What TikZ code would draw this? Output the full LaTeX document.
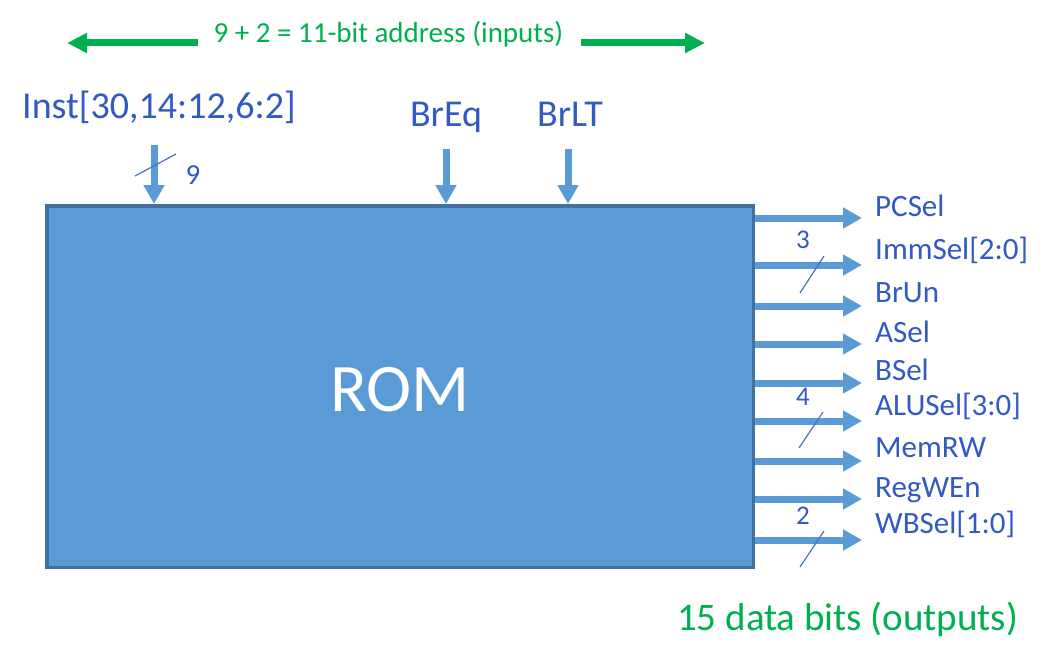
\documentclass[tikz,border=0pt]{standalone}
\usepackage{fontspec}
\setmainfont{Carlito}
\usetikzlibrary{arrows.meta}
\definecolor{txtblue}{RGB}{50,90,196}
\definecolor{arrblue}{RGB}{91,155,213}
\definecolor{romfill}{RGB}{91,155,213}
\definecolor{romedge}{RGB}{65,113,156}
\definecolor{slashblue}{RGB}{68,114,196}
\definecolor{offgreen}{RGB}{0,176,80}
\newcommand{\fs}[1]{\fontsize{#1}{#1}\selectfont}
\tikzset{
  lbl/.style={inner sep=0pt, text=txtblue},
  outlbl/.style={lbl, anchor=base west, font=\fs{31}},
  inlbl/.style={lbl, anchor=base, font=\fs{38}},
  numlbl/.style={lbl, anchor=base, font=\fs{27}},
  sigarrow/.style={draw=arrblue, line width=7pt, -{Triangle[length=19pt,width=20pt]}},
  greenarrow/.style={draw=offgreen, line width=7pt, -{Triangle[length=20pt,width=19pt]}},
  slashline/.style={draw=slashblue, line width=1.2pt},
  greentxt/.style={inner sep=0pt, text=offgreen}
}
\begin{document}
\begin{tikzpicture}[x=1pt,y=-1pt]
\useasboundingbox (0,0) rectangle (1056,655);
\fill[white] (0,0) rectangle (1056,655);

% ROM block
\node[draw=romedge, fill=romfill, line width=3.5pt, minimum width=706.5pt, minimum height=361.5pt, inner sep=0pt] (rom) at (400,386.5) {};
\node[inner sep=0pt, text=white, font=\fs{68}, anchor=base] (romtxt) at (400,411) {ROM};

% Title with green arrows
\node[greentxt, anchor=base, font=\fs{29}] (title) at (388.5,43) {9 + 2 = 11-bit address (inputs)};
\coordinate (gl0) at (198,43);
\coordinate (gl1) at (67,43);
\coordinate (gr0) at (581,43);
\coordinate (gr1) at (705,43);
\draw[greenarrow] (gl0) -- (gl1);
\draw[greenarrow] (gr0) -- (gr1);

% Inputs
\node[inlbl, anchor=base west] (inst) at (22,119) {Inst[30,14:12,6:2]};
\node[inlbl] (breq) at (446,127) {BrEq};
\node[inlbl] (brlt) at (570,127) {BrLT};
\coordinate (i1) at (154,145);
\coordinate (i2) at (446,149);
\coordinate (i3) at (568,149);
\draw[sigarrow] (i1) -- (i1 |- rom.north);
\draw[sigarrow] (i2) -- (i2 |- rom.north);
\draw[sigarrow] (i3) -- (i3 |- rom.north);
\coordinate (s0a) at (135,176);
\coordinate (s0b) at (176,154);
\draw[slashline] (s0a) -- (s0b);
\node[numlbl, font=\fs{29}] (n9) at (193,185) {9};

% Outputs
\node[outlbl] (pcsel) at (875,216) {PCSel};
\node[outlbl] (immsel) at (875,259) {ImmSel[2:0]};
\node[outlbl] (brun) at (875,302) {BrUn};
\node[outlbl] (asel) at (875,342) {ASel};
\node[outlbl] (bsel) at (875,380) {BSel};
\node[outlbl] (alusel) at (875,415) {ALUSel[3:0]};
\node[outlbl] (memrw) at (875,457) {MemRW};
\node[outlbl] (regwen) at (875,497) {RegWEn};
\node[outlbl] (wbsel) at (875,533) {WBSel[1:0]};

\coordinate (o1) at (862,218);
\coordinate (o2) at (862,265);
\coordinate (o3) at (862,306);
\coordinate (o4) at (862,344);
\coordinate (o5) at (862,383);
\coordinate (o6) at (862,421);
\coordinate (o7) at (862,461);
\coordinate (o8) at (862,499);
\coordinate (o9) at (862,540);
\foreach \o in {o1,o2,o3,o4,o5,o6,o7,o8,o9}
  \draw[sigarrow] (rom.east |- \o) -- (\o);

% bus slashes and widths
\coordinate (s1a) at (800,293);
\coordinate (s1b) at (824,256);
\coordinate (s2a) at (799,448);
\coordinate (s2b) at (823,412);
\coordinate (s3a) at (800,567);
\coordinate (s3b) at (824,531);
\draw[slashline] (s1a) -- (s1b);
\draw[slashline] (s2a) -- (s2b);
\draw[slashline] (s3a) -- (s3b);
\node[numlbl] (n3) at (803,248) {3};
\node[numlbl] (n4) at (803,405) {4};
\node[numlbl] (n2) at (803,524) {2};

% bottom caption
\node[greentxt, anchor=base west, font=\fs{39}] (outcap) at (677,630) {15 data bits (outputs)};
\end{tikzpicture}
\end{document}
